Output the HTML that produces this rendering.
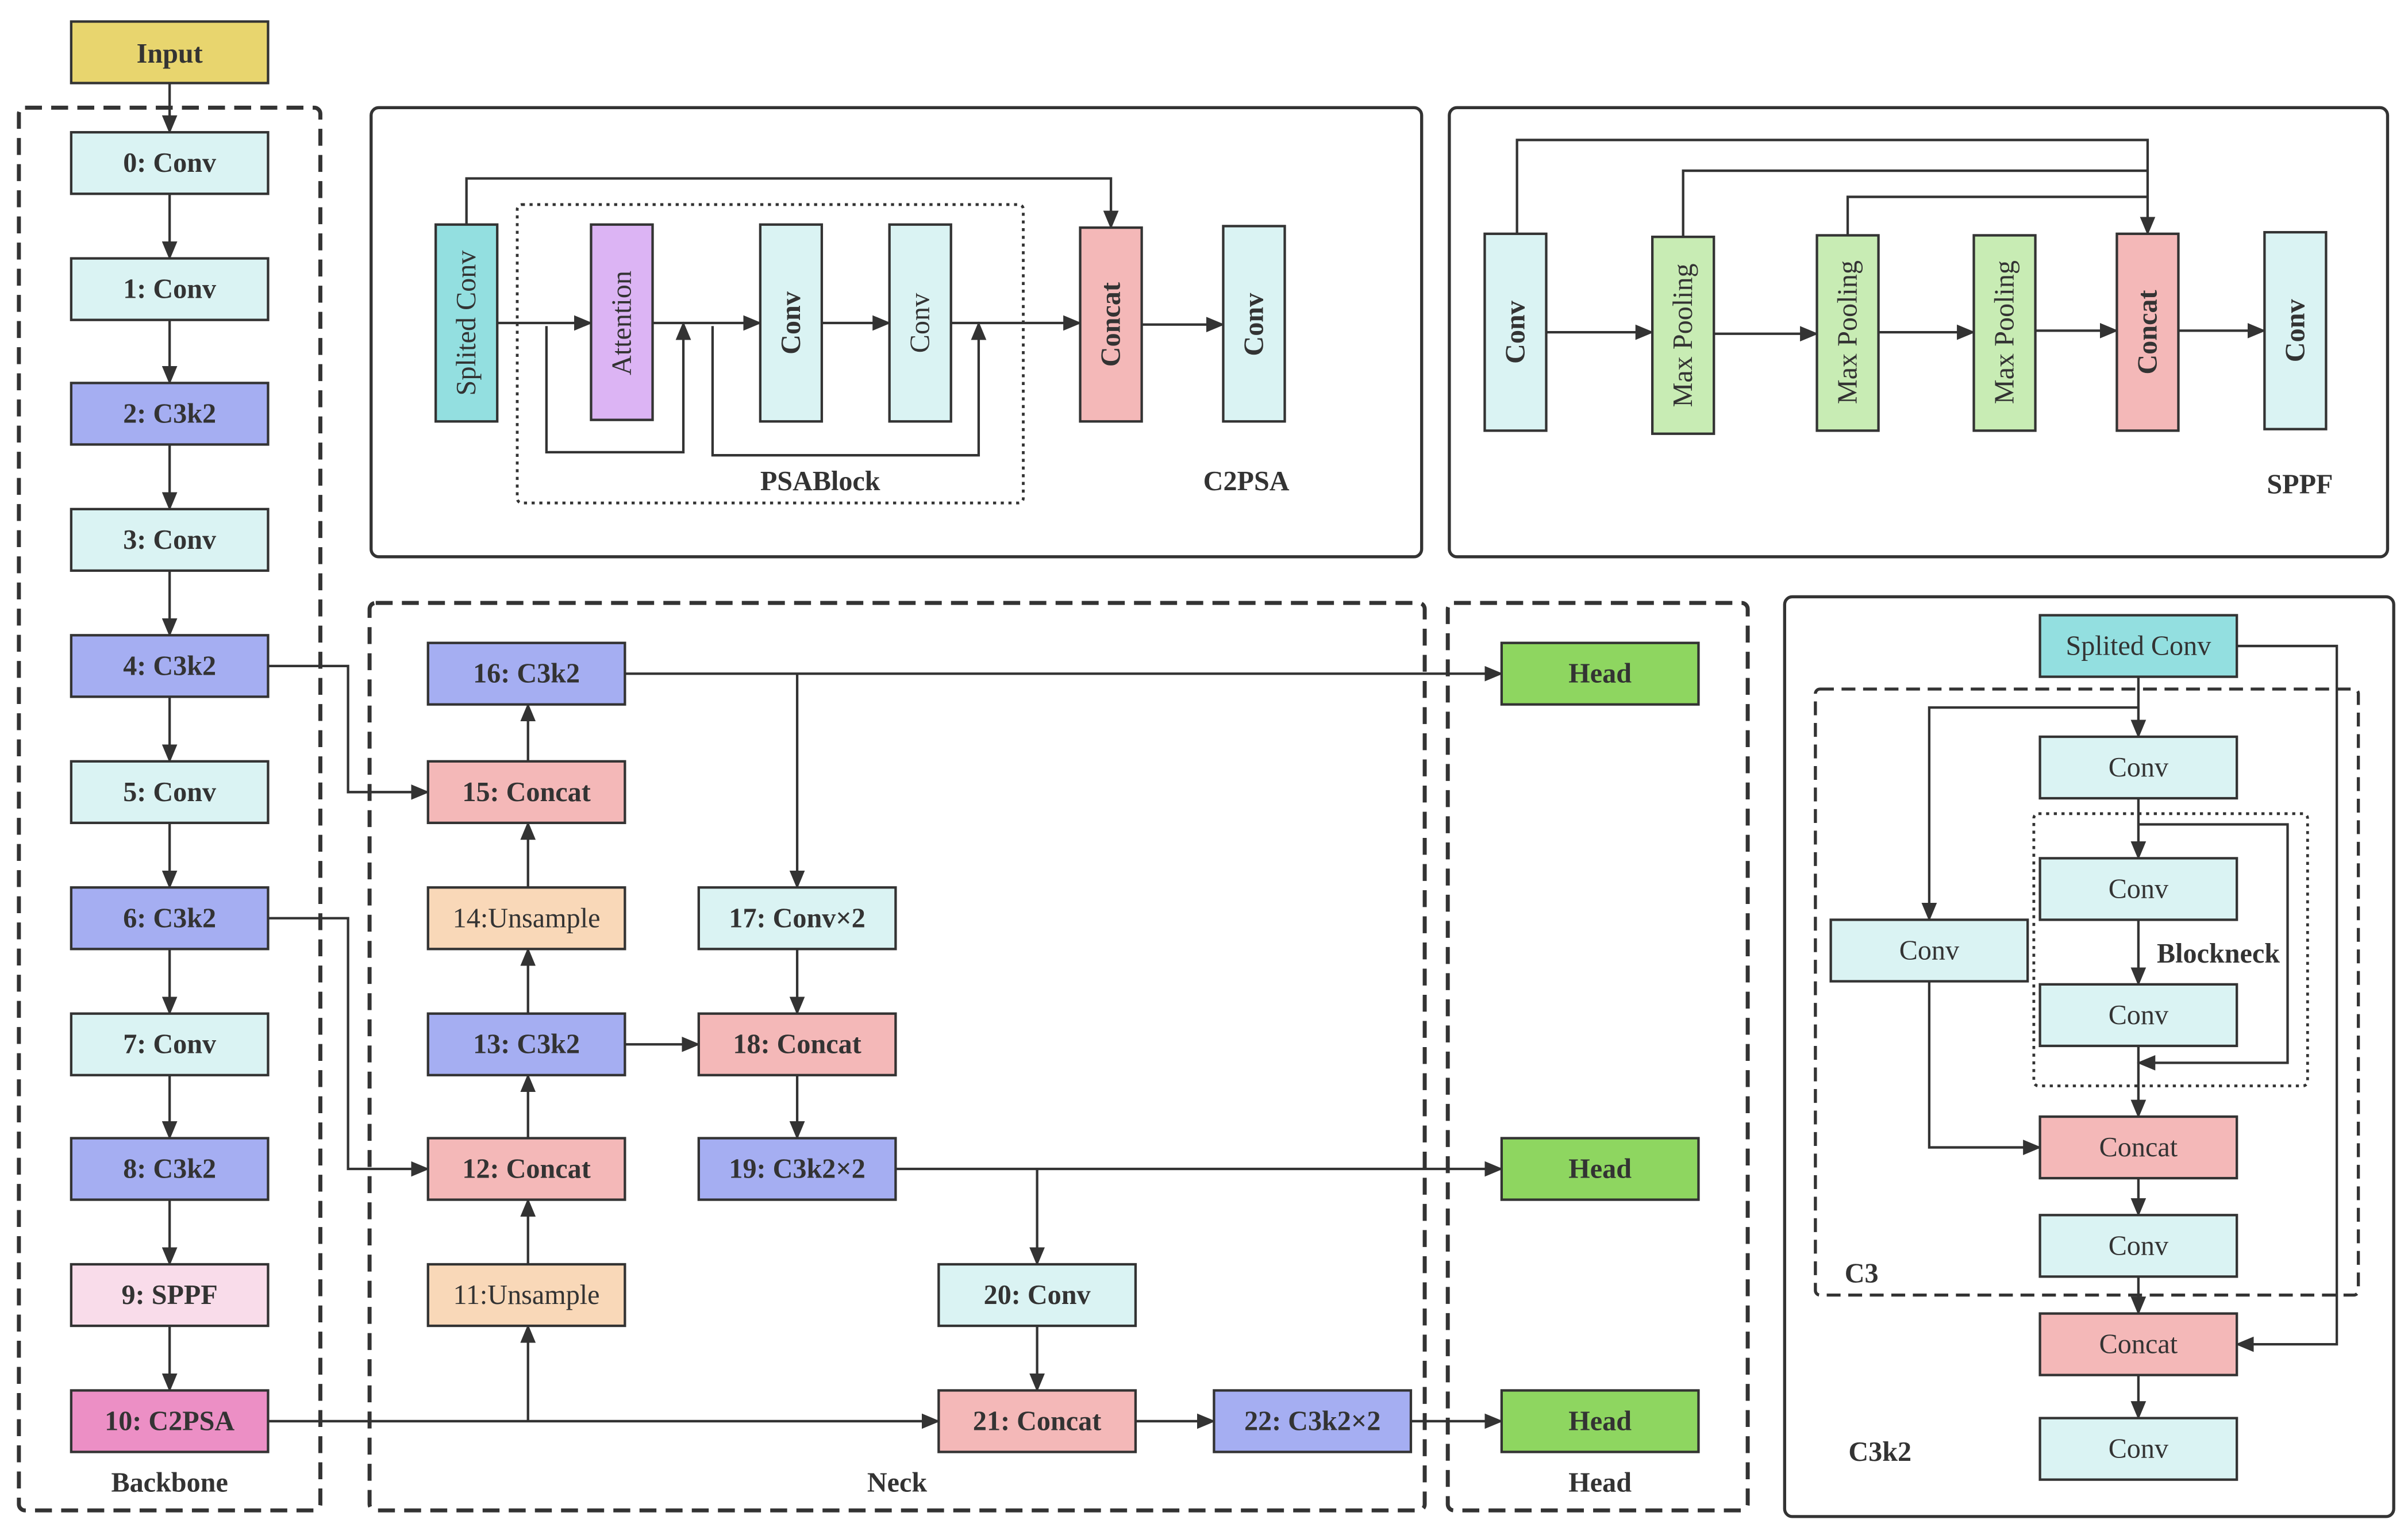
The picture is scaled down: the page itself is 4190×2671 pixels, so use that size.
<!DOCTYPE html>
<html><head><meta charset="utf-8"><style>
html,body{margin:0;padding:0;background:#fff;}
svg{display:block;}
svg text{font-family:"Liberation Serif","DejaVu Serif",serif;fill:#333;}
</style></head><body>
<svg width="4190" height="2671" viewBox="0 0 1565 998" xmlns="http://www.w3.org/2000/svg" font-family="Liberation Serif, DejaVu Serif, serif">
<defs>
<marker id="a" markerUnits="userSpaceOnUse" markerWidth="12" markerHeight="10" refX="11" refY="5" orient="auto">
<path d="M0,0 L12,5 L0,10 Z" fill="#333"/></marker>
</defs>
<g stroke="#333" stroke-width="1.6" fill="none">
<rect x="12" y="70" width="196" height="912" rx="4" stroke-width="2.6" stroke-dasharray="11,6"/>
<rect x="240" y="392" width="686" height="590" rx="4" stroke-width="2.6" stroke-dasharray="11,6"/>
<rect x="941" y="392" width="195" height="590" rx="4" stroke-width="2.6" stroke-dasharray="11,6"/>
<rect x="241" y="70" width="683" height="292" rx="5" stroke-width="2"/>
<rect x="942" y="70" width="610" height="292" rx="5" stroke-width="2"/>
<rect x="1160" y="388" width="396" height="598" rx="5" stroke-width="2"/>
<rect x="1180" y="448" width="353" height="394" rx="3" stroke-width="2" stroke-dasharray="9,5"/>
<rect x="1322" y="529" width="178" height="177" rx="3" stroke-width="1.8" stroke-dasharray="2,3"/>
<rect x="336" y="133" width="329" height="194" rx="3" stroke-width="1.8" stroke-dasharray="2,3"/>
</g>
<g stroke="#333" stroke-width="1.6" fill="none">
<path d="M110,54V86" marker-end="url(#a)"/>
<path d="M110,126V168" marker-end="url(#a)"/>
<path d="M110,208V249" marker-end="url(#a)"/>
<path d="M110,289V331" marker-end="url(#a)"/>
<path d="M110,371V413" marker-end="url(#a)"/>
<path d="M110,453V495" marker-end="url(#a)"/>
<path d="M110,535V577" marker-end="url(#a)"/>
<path d="M110,617V659" marker-end="url(#a)"/>
<path d="M110,699V740" marker-end="url(#a)"/>
<path d="M110,780V822" marker-end="url(#a)"/>
<path d="M110,862V904" marker-end="url(#a)"/>
<path d="M174,433H226V515H278" marker-end="url(#a)"/>
<path d="M174,597H226V760H278" marker-end="url(#a)"/>
<path d="M174,924H610" marker-end="url(#a)"/>
<path d="M343,924V862" marker-end="url(#a)"/>
<path d="M343,822V780" marker-end="url(#a)"/>
<path d="M343,740V699" marker-end="url(#a)"/>
<path d="M343,659V617" marker-end="url(#a)"/>
<path d="M343,577V535" marker-end="url(#a)"/>
<path d="M343,495V458" marker-end="url(#a)"/>
<path d="M406,438H976" marker-end="url(#a)"/>
<path d="M518,438V577" marker-end="url(#a)"/>
<path d="M518,617V659" marker-end="url(#a)"/>
<path d="M406,679H454" marker-end="url(#a)"/>
<path d="M518,699V740" marker-end="url(#a)"/>
<path d="M582,760H976" marker-end="url(#a)"/>
<path d="M674,760V822" marker-end="url(#a)"/>
<path d="M674,862V904" marker-end="url(#a)"/>
<path d="M738,924H789" marker-end="url(#a)"/>
<path d="M917,924H976" marker-end="url(#a)"/>
<path d="M303,146V116H722V148" marker-end="url(#a)"/>
<path d="M323,210H384" marker-end="url(#a)"/>
<path d="M424,210H494" marker-end="url(#a)"/>
<path d="M534,210H578" marker-end="url(#a)"/>
<path d="M618,210H702" marker-end="url(#a)"/>
<path d="M742,211H795" marker-end="url(#a)"/>
<path d="M355,212V294H444V210" marker-end="url(#a)"/>
<path d="M463,212V296H636V210" marker-end="url(#a)"/>
<path d="M986,152V91H1396V152" marker-end="url(#a)"/>
<path d="M1094,154V111H1396"/>
<path d="M1201,153V128H1396"/>
<path d="M1005,216H1074" marker-end="url(#a)"/>
<path d="M1114,217H1181" marker-end="url(#a)"/>
<path d="M1221,216H1283" marker-end="url(#a)"/>
<path d="M1323,215H1376" marker-end="url(#a)"/>
<path d="M1416,215H1472" marker-end="url(#a)"/>
<path d="M1390,440V479" marker-end="url(#a)"/>
<path d="M1390,460H1254V598" marker-end="url(#a)"/>
<path d="M1390,519V558" marker-end="url(#a)"/>
<path d="M1390,536H1487V691H1390" marker-end="url(#a)"/>
<path d="M1390,598V640" marker-end="url(#a)"/>
<path d="M1390,680V726" marker-end="url(#a)"/>
<path d="M1254,638V746H1326" marker-end="url(#a)"/>
<path d="M1390,766V790" marker-end="url(#a)"/>
<path d="M1390,830V854" marker-end="url(#a)"/>
<path d="M1390,894V922" marker-end="url(#a)"/>
<path d="M1454,420H1519V874H1454" marker-end="url(#a)"/>
</g>
<g stroke="#333" stroke-width="1.6">
<rect x="46" y="14" width="128" height="40" fill="#e8d56e"/>
<rect x="46" y="86" width="128" height="40" fill="#daf3f3"/>
<rect x="46" y="168" width="128" height="40" fill="#daf3f3"/>
<rect x="46" y="249" width="128" height="40" fill="#a5aef2"/>
<rect x="46" y="331" width="128" height="40" fill="#daf3f3"/>
<rect x="46" y="413" width="128" height="40" fill="#a5aef2"/>
<rect x="46" y="495" width="128" height="40" fill="#daf3f3"/>
<rect x="46" y="577" width="128" height="40" fill="#a5aef2"/>
<rect x="46" y="659" width="128" height="40" fill="#daf3f3"/>
<rect x="46" y="740" width="128" height="40" fill="#a5aef2"/>
<rect x="46" y="822" width="128" height="40" fill="#f9dcea"/>
<rect x="46" y="904" width="128" height="40" fill="#ec8fc5"/>
<rect x="278" y="418" width="128" height="40" fill="#a5aef2"/>
<rect x="278" y="495" width="128" height="40" fill="#f4b8b8"/>
<rect x="278" y="577" width="128" height="40" fill="#f9d8b8"/>
<rect x="278" y="659" width="128" height="40" fill="#a5aef2"/>
<rect x="278" y="740" width="128" height="40" fill="#f4b8b8"/>
<rect x="278" y="822" width="128" height="40" fill="#f9d8b8"/>
<rect x="454" y="577" width="128" height="40" fill="#daf3f3"/>
<rect x="454" y="659" width="128" height="40" fill="#f4b8b8"/>
<rect x="454" y="740" width="128" height="40" fill="#a5aef2"/>
<rect x="610" y="822" width="128" height="40" fill="#daf3f3"/>
<rect x="610" y="904" width="128" height="40" fill="#f4b8b8"/>
<rect x="789" y="904" width="128" height="40" fill="#a5aef2"/>
<rect x="976" y="418" width="128" height="40" fill="#8ed660"/>
<rect x="976" y="740" width="128" height="40" fill="#8ed660"/>
<rect x="976" y="904" width="128" height="40" fill="#8ed660"/>
<rect x="283" y="146" width="40" height="128" fill="#93dfe0"/>
<rect x="384" y="146" width="40" height="127" fill="#dcb4f4"/>
<rect x="494" y="146" width="40" height="128" fill="#daf3f3"/>
<rect x="578" y="146" width="40" height="128" fill="#daf3f3"/>
<rect x="702" y="148" width="40" height="126" fill="#f4b8b8"/>
<rect x="795" y="147" width="40" height="127" fill="#daf3f3"/>
<rect x="965" y="152" width="40" height="128" fill="#daf3f3"/>
<rect x="1074" y="154" width="40" height="128" fill="#c8ecb4"/>
<rect x="1181" y="153" width="40" height="127" fill="#c8ecb4"/>
<rect x="1283" y="153" width="40" height="127" fill="#c8ecb4"/>
<rect x="1376" y="152" width="40" height="128" fill="#f4b8b8"/>
<rect x="1472" y="151" width="40" height="128" fill="#daf3f3"/>
<rect x="1326" y="400" width="128" height="40" fill="#93dfe0"/>
<rect x="1326" y="479" width="128" height="40" fill="#daf3f3"/>
<rect x="1326" y="558" width="128" height="40" fill="#daf3f3"/>
<rect x="1326" y="640" width="128" height="40" fill="#daf3f3"/>
<rect x="1190" y="598" width="128" height="40" fill="#daf3f3"/>
<rect x="1326" y="726" width="128" height="40" fill="#f4b8b8"/>
<rect x="1326" y="790" width="128" height="40" fill="#daf3f3"/>
<rect x="1326" y="854" width="128" height="40" fill="#f4b8b8"/>
<rect x="1326" y="922" width="128" height="40" fill="#daf3f3"/>
</g>
<g font-size="18" font-weight="bold" text-anchor="middle" dominant-baseline="central">
<text x="110" y="35">Input</text>
<text x="110" y="106">0: Conv</text>
<text x="110" y="188">1: Conv</text>
<text x="110" y="269">2: C3k2</text>
<text x="110" y="351">3: Conv</text>
<text x="110" y="433">4: C3k2</text>
<text x="110" y="515">5: Conv</text>
<text x="110" y="597">6: C3k2</text>
<text x="110" y="679">7: Conv</text>
<text x="110" y="760">8: C3k2</text>
<text x="110" y="842">9: SPPF</text>
<text x="110" y="924">10: C2PSA</text>
<text x="342" y="438">16: C3k2</text>
<text x="342" y="515">15: Concat</text>
<text x="342" y="679">13: C3k2</text>
<text x="342" y="760">12: Concat</text>
<text x="518" y="597">17: Conv×2</text>
<text x="518" y="679">18: Concat</text>
<text x="518" y="760">19: C3k2×2</text>
<text x="674" y="842">20: Conv</text>
<text x="674" y="924">21: Concat</text>
<text x="853" y="924">22: C3k2×2</text>
<text x="1040" y="438">Head</text>
<text x="1040" y="760">Head</text>
<text x="1040" y="924">Head</text>
<text x="110" y="964">Backbone</text>
<text x="583" y="964">Neck</text>
<text x="1040" y="964">Head</text>
<text x="533" y="313">PSABlock</text>
<text x="810" y="313">C2PSA</text>
<text x="1495" y="315">SPPF</text>
<text x="1442" y="620">Blockneck</text>
<text x="1210" y="828">C3</text>
<text x="1222" y="944">C3k2</text>
<text transform="translate(514,210) rotate(-90)">Conv</text>
<text transform="translate(722,211) rotate(-90)">Concat</text>
<text transform="translate(815,211) rotate(-90)">Conv</text>
<text transform="translate(985,216) rotate(-90)">Conv</text>
<text transform="translate(1396,216) rotate(-90)">Concat</text>
<text transform="translate(1492,215) rotate(-90)">Conv</text>
</g>
<g font-size="18" font-weight="normal" text-anchor="middle" dominant-baseline="central">
<text x="342" y="597">14:Unsample</text>
<text x="342" y="842">11:Unsample</text>
<text x="1390" y="420">Splited Conv</text>
<text x="1390" y="499">Conv</text>
<text x="1390" y="578">Conv</text>
<text x="1390" y="660">Conv</text>
<text x="1254" y="618">Conv</text>
<text x="1390" y="746">Concat</text>
<text x="1390" y="810">Conv</text>
<text x="1390" y="874">Concat</text>
<text x="1390" y="942">Conv</text>
<text transform="translate(303,210) rotate(-90)">Splited Conv</text>
<text transform="translate(404,210) rotate(-90)">Attention</text>
<text transform="translate(598,210) rotate(-90)">Conv</text>
<text transform="translate(1094,218) rotate(-90)">Max Pooling</text>
<text transform="translate(1201,216) rotate(-90)">Max Pooling</text>
<text transform="translate(1303,216) rotate(-90)">Max Pooling</text>
</g>
</svg>
</body></html>
